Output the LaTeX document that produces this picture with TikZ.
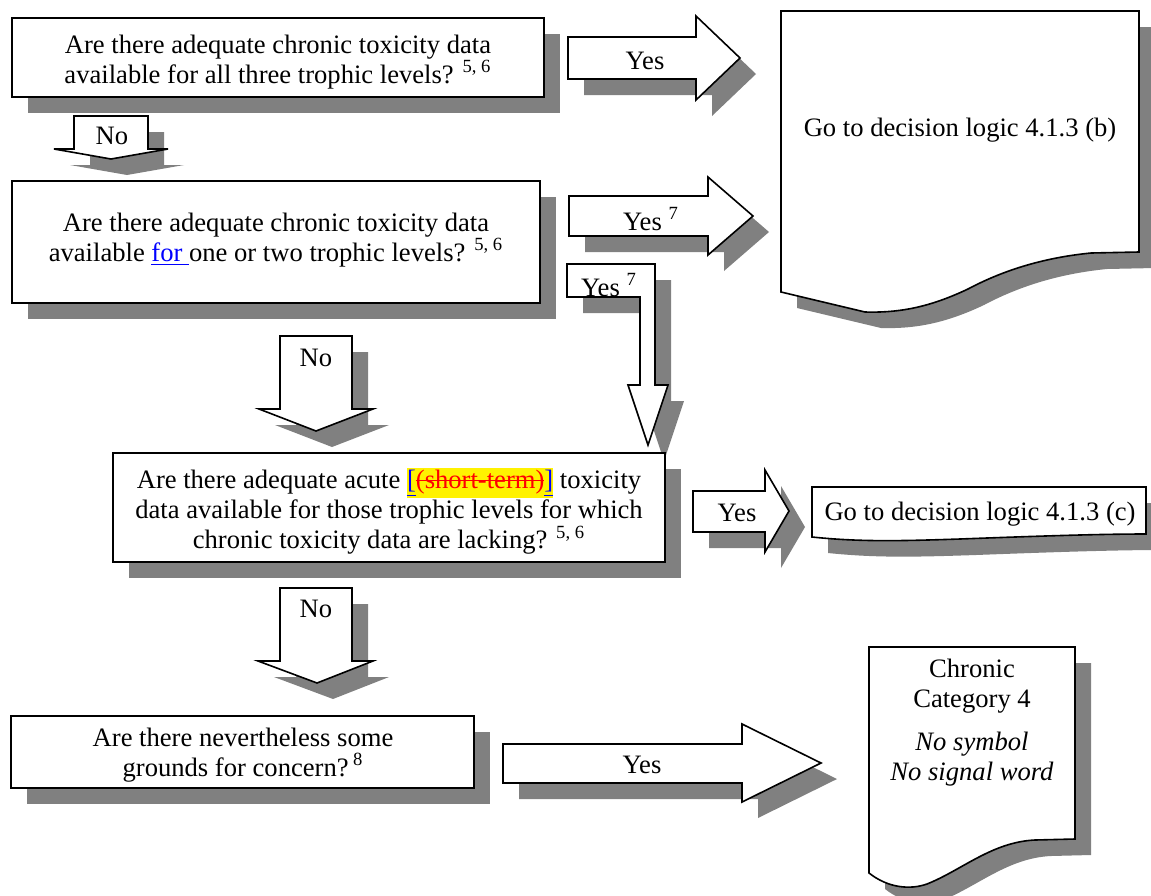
\documentclass[tikz,border=0pt]{standalone}
\usepackage{fontspec}
\setmainfont{Liberation Serif}
\usepackage{xcolor}
\definecolor{shadowgray}{HTML}{808080}
\newsavebox\strkbox
\newcommand\strikeit[1]{\sbox\strkbox{#1}\rlap{\usebox\strkbox}\rule[0.28em]{\wd\strkbox}{0.06em}}
\tikzset{
  shadowc/.style={fill=shadowgray, draw=none},
  shapec/.style={fill=white, draw=black, line width=0.8pt, line join=miter},
  lbl/.style={font=\fontsize{13.3}{15}\selectfont, inner sep=0pt, align=center},
}
\newcommand\shp[1]{\fill[shadowc,shift={(16,16)}] #1; \filldraw[shapec] #1;}
\begin{document}
\begin{tikzpicture}[x=0.5pt,y=-0.5pt]
\useasboundingbox (0,0) rectangle (1151,895);
% boxes and arrows
\shp{(12,18) rectangle (544,97)}
\shp{(568,37) -- (696,37) -- (696,16) -- (740,58) -- (696,100) -- (696,79) -- (568,79) -- cycle}
\shp{(74,116) -- (148,116) -- (148,149) -- (168,149) -- (111,159) -- (54,149) -- (74,149) -- cycle}
\shp{(781,11) -- (1139,11) -- (1139,252) -- (1091,253) .. controls (1040,258) and (1000,272) .. (968,289) .. controls (930,307) and (900,313) .. (865,312) -- (781,292) -- cycle}
\shp{(12,181) rectangle (540,303)}
\shp{(569,196) -- (708,196) -- (708,177) -- (753,216) -- (708,255) -- (708,236) -- (569,236) -- cycle}
\shp{(567,264) -- (655,264) -- (655,385) -- (668,385) -- (648,445) -- (628,385) -- (640,385) -- (640,297) -- (567,297) -- cycle}
\shp{(280,336) -- (352,336) -- (352,409) -- (373,409) -- (316,431) -- (259,409) -- (280,409) -- cycle}
\shp{(113,453) rectangle (665,562)}
\shp{(693,491) -- (765,491) -- (765,470) -- (789,511) -- (765,552) -- (765,532) -- (693,532) -- cycle}
\shp{(812,487) -- (1146,487) -- (1146,534) .. controls (1100,534) and (1040,536) .. (960,539) .. controls (900,541) and (860,542) .. (812,537) -- cycle}
\shp{(280,588) -- (352,588) -- (352,661) -- (373,661) -- (317,683) -- (258,661) -- (280,661) -- cycle}
\shp{(11,716) rectangle (474,788)}
\shp{(503,744) -- (742,744) -- (742,724) -- (821,763) -- (742,802) -- (742,783) -- (503,783) -- cycle}
\shp{(869,647) -- (1075,647) -- (1075,839) -- (1035,840) .. controls (992,842) and (962,870) .. (927,884) .. controls (910,890) and (888,888) .. (869,873) -- cycle}
% texts
\node[lbl] (q1) at (278,62) {Are there adequate chronic toxicity data\\available for all three trophic levels? \textsuperscript{5, 6}};
\node[lbl] (y1) at (645,61) {Yes};
\node[lbl] (n1) at (112,136) {No};
\node[lbl] (gb) at (960,130) {Go to decision logic 4.1.3 (b)};
\node[lbl] (q2) at (276,240) {Are there adequate chronic toxicity data\\available \textcolor{blue}{\underline{for\ }}one or two trophic levels? \textsuperscript{5, 6}};
\node[lbl] (y2) at (651,219) {Yes \textsuperscript{7}};
\node[lbl] (y3) at (609,285) {Yes \textsuperscript{7}};
\node[lbl] (n2) at (316,358) {No};
\node[lbl] (q3) at (389,511) {Are there adequate acute {\setlength{\fboxsep}{0pt}\colorbox{yellow}{\strut\textcolor{blue}{\underline{[}}\textcolor{red}{\strikeit{(short-term)}}\textcolor{blue}{\underline{]}}}} toxicity\\data available for those trophic levels for which\\chronic toxicity data are lacking? \textsuperscript{5, 6}};
\node[lbl] (y4) at (737,513) {Yes};
\node[lbl] (gc) at (980,514) {Go to decision logic 4.1.3 (c)};
\node[lbl] (n3) at (316,609) {No};
\node[lbl] (q4) at (243,755) {Are there nevertheless some\\grounds for concern?\,\textsuperscript{8}};
\node[lbl] (y5) at (642,765) {Yes};
\node[lbl] (c4) at (972,723) {Chronic\\Category 4\\[6.5pt]\textit{No symbol}\\\textit{No signal word}};
\end{tikzpicture}
\end{document}
